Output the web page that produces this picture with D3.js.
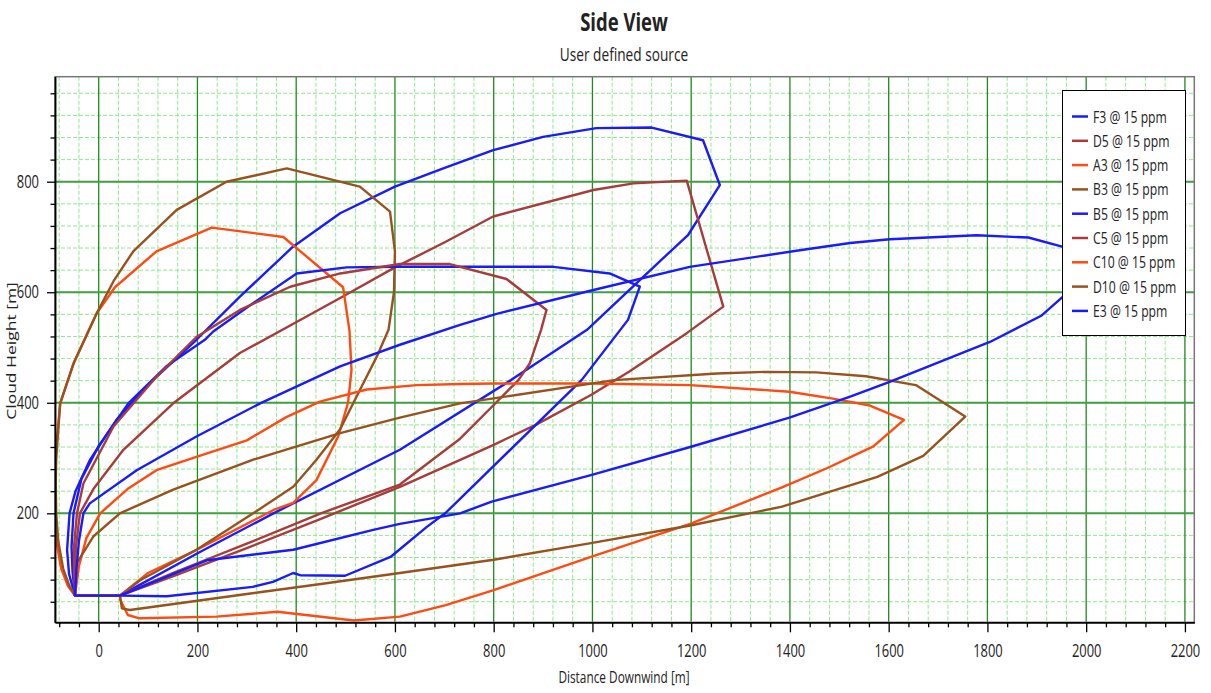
<!DOCTYPE html>
<html>
<head>
<meta charset="utf-8">
<script src="https://cdn.jsdelivr.net/npm/d3@7"></script>
<style>
    body { margin: 0; background: #fff; }
    text { font-family: "Open Sans", sans-serif; fill: #222; }
</style>
</head>
<body>
<script>
// scenario contours, [distance downwind m, height m], from source along lower edge, round the tip, back on upper edge
var f3 = [[43,51],[205,130],[354,200],[610,315],[835,441],[989,532],[1097,623],[1194,704],[1258,794],[1224,875],[1120,898],[1008,897],[900,881],[799,857],[698,824],[600,791],[489,743],[393,682],[286,592],[198,514],[104,436],[36,369],[-18,296],[-47,240],[-59,200],[-64,134],[-60,90],[-48,51]];
var d5 = [[43,51],[150,86],[300,137],[450,190],[610,248],[800,324],[885,360],[997,414],[1074,456],[1191,526],[1265,574],[1191,802],[1083,797],[1002,785],[799,737],[700,690],[600,645],[500,595],[421,556],[286,490],[151,399],[50,315],[-10,245],[-38,200],[-46,140],[-48,95],[-48,51]];
var a3 = [[43,51],[100,92],[192,131],[354,206],[394,219],[441,260],[485,339],[505,400],[512,459],[508,530],[495,609],[374,700],[229,717],[117,674],[33,609],[-4,562],[-51,471],[-78,399],[-86,320],[-88,254],[-89,200],[-86,150],[-76,100],[-62,68],[-48,51]];
var b3 = [[43,51],[84,79],[198,134],[313,200],[394,248],[441,297],[489,352],[529,423],[563,483],[587,532],[598,600],[600,674],[590,746],[529,791],[381,824],[259,800],[158,749],[70,674],[30,620],[-4,562],[-51,471],[-78,399],[-86,300],[-87,254],[-86,200],[-82,150],[-72,100],[-60,70],[-48,51]];
var b5 = [[43,51],[138,50],[312,67],[353,76],[394,92],[408,88],[499,87],[591,121],[664,175],[703,201],[978,441],[1072,550],[1096,610],[1035,634],[921,646],[732,646],[610,646],[502,645],[401,634],[306,576],[232,529],[215,514],[137,466],[60,399],[0,322],[-35,262],[-51,200],[-55,140],[-53,95],[-48,51]];
var c5 = [[43,51],[150,92],[300,145],[450,200],[610,252],[732,335],[800,396],[850,441],[873,471],[896,532],[907,568],[826,624],[711,651],[610,651],[489,634],[388,610],[286,568],[198,519],[117,447],[30,357],[-31,254],[-44,200],[-50,140],[-50,95],[-48,51]];
var c10 = [[43,51],[44,43],[59,16],[83,10],[238,13],[362,22],[517,6],[610,13],[703,34],[800,61],[997,121],[1198,181],[1384,247],[1476,282],[1569,321],[1631,369],[1562,395],[1484,408],[1399,420],[1198,432],[997,435],[800,435],[732,434],[644,432],[543,424],[448,402],[380,374],[300,332],[198,302],[117,278],[60,245],[3,200],[-25,155],[-40,105],[-48,51]];
var d10 = [[43,51],[47,28],[63,25],[300,54],[450,72],[610,92],[800,116],[997,146],[1198,178],[1384,212],[1577,266],[1670,304],[1755,375],[1655,432],[1554,448],[1453,455],[1353,456],[1252,453],[1044,441],[800,408],[732,399],[610,373],[489,345],[313,297],[151,243],[43,200],[-11,158],[-45,109],[-48,51]];
var e3 = [[43,51],[219,115],[394,134],[556,170],[610,181],[732,200],[796,221],[997,269],[1198,320],[1399,373],[1522,411],[1602,438],[1805,510],[1910,558],[1953,592],[2010,640],[1953,682],[1883,699],[1778,703],[1602,696],[1522,689],[1420,676],[1197,646],[1002,604],[806,561],[732,541],[610,505],[489,466],[327,399],[198,339],[77,278],[-18,218],[-31,200],[-40,150],[-45,100],[-48,51]];

var series = [f3, d5, a3, b3, b5, c5, c10, d10, e3];
var names = ["F3 @ 15 ppm", "D5 @ 15 ppm", "A3 @ 15 ppm", "B3 @ 15 ppm", "B5 @ 15 ppm", "C5 @ 15 ppm", "C10 @ 15 ppm", "D10 @ 15 ppm", "E3 @ 15 ppm"];

var xMajor = d3.range(0, 2201, 200);
var xMinor = d3.range(-80, 2201, 40).filter(function (v) { return v % 200 != 0; });
var yMajor = [200, 400, 600, 800];
var yMinor = d3.range(40, 990, 40).filter(function (v) { return v % 200 != 0; });

var width = 1211, height = 693;
var plotLeft = 55, plotRight = 1194.3, plotTop = 76.7, plotBottom = 622.3;
var SX = 0.74; // the picture is squeezed sideways, text too

var blue = "#1a1aff", redbrown = "#a83b3b", orange = "#ff4a12", sienna = "#98521f";
var color = [blue, redbrown, orange, sienna, blue, redbrown, orange, sienna, blue];

var svg = d3.select('body').append('svg').attr('width', width).attr('height', height);

var x = d3.scaleLinear().domain([-88.5, 2219]).range([plotLeft, plotRight]);
var y = d3.scaleLinear().domain([2.8, 990]).range([plotBottom, plotTop]);

function addText(g, px, py, str, size, anchor, weight, rot) {
    return g.append("text")
        .attr("transform", "translate(" + px + "," + py + ") scale(" + SX + ",1)" + (rot ? " rotate(-90)" : ""))
        .attr("text-anchor", anchor)
        .style("font-size", size + "px")
        .style("font-weight", weight || "normal")
        .text(str);
}

// titles
addText(svg, 624, 31, "Side View", 25, "middle", "bold");
addText(svg, 624, 61, "User defined source", 18.5, "middle");
addText(svg, 624, 683, "Distance Downwind [m]", 16, "middle");
addText(svg, 16, 351, "Cloud Height [m]", 17.5, "middle", "normal", true);

// grid
var grid = svg.append("g");
grid.selectAll(".vmin").data(xMinor).enter().append("line")
    .attr("x1", function (d) { return x(d); }).attr("x2", function (d) { return x(d); })
    .attr("y1", plotTop).attr("y2", plotBottom)
    .attr("stroke", "#8fe88f").attr("stroke-width", 1).style("stroke-dasharray", "4,2");
grid.selectAll(".hmin").data(yMinor).enter().append("line")
    .attr("y1", function (d) { return y(d); }).attr("y2", function (d) { return y(d); })
    .attr("x1", plotLeft).attr("x2", plotRight)
    .attr("stroke", "#8fe88f").attr("stroke-width", 1).style("stroke-dasharray", "4,2");
grid.selectAll(".vmaj").data(xMajor).enter().append("line")
    .attr("x1", function (d) { return x(d); }).attr("x2", function (d) { return x(d); })
    .attr("y1", plotTop).attr("y2", plotBottom)
    .attr("stroke", "#1c8c1c").attr("stroke-width", 1.3);
grid.selectAll(".hmaj").data(yMajor).enter().append("line")
    .attr("y1", function (d) { return y(d); }).attr("y2", function (d) { return y(d); })
    .attr("x1", plotLeft).attr("x2", plotRight)
    .attr("stroke", "#3f9f3f").attr("stroke-width", 2);

// contours
svg.append("clipPath").attr("id", "plotclip").append("rect")
    .attr("x", plotLeft).attr("y", plotTop)
    .attr("width", plotRight - plotLeft).attr("height", plotBottom - plotTop);

var line = d3.line()
    .x(function (d) { return x(d[0]); })
    .y(function (d) { return y(d[1]); });

svg.append("g").attr("clip-path", "url(#plotclip)")
    .selectAll("path").data(series).enter().append("path")
    .attr("d", function (d) { return line(d) + "Z"; })
    .attr("fill", "none")
    .attr("stroke", function (d, i) { return color[i]; })
    .attr("stroke-width", 2.4)
    .attr("stroke-linejoin", "round");

// frame
svg.append("rect").attr("x", plotLeft).attr("y", plotTop)
    .attr("width", plotRight - plotLeft).attr("height", plotBottom - plotTop)
    .attr("fill", "none").attr("stroke", "#777").attr("stroke-width", 1.5);

// axes
var xAxis = svg.append("g").attr("transform", "translate(0," + plotBottom + ")");
xAxis.append("g").call(d3.axisBottom(x).tickValues(xMinor).tickSize(5).tickFormat("").tickSizeOuter(0));
xAxis.append("g").call(d3.axisBottom(x).tickValues(xMajor).tickSize(10).tickPadding(12)
    .tickFormat(d3.format("d")).tickSizeOuter(0));
var yAxis = svg.append("g").attr("transform", "translate(" + plotLeft + ",0)");
yAxis.append("g").call(d3.axisLeft(y).tickValues(yMinor).tickSize(4.5).tickFormat("").tickSizeOuter(0));
yAxis.append("g").call(d3.axisLeft(y).tickValues(yMajor).tickSize(8).tickFormat(d3.format("d")).tickSizeOuter(0));

svg.selectAll(".domain").attr("stroke", "#000").attr("stroke-width", 1.5);
svg.selectAll(".tick line").attr("stroke", "#000").attr("stroke-width", 1.3);
xAxis.selectAll("text").style("font-size", "17.5px").attr("fill", "#222")
    .attr("transform", "scale(" + SX + ",1)");
yAxis.selectAll("text").style("font-size", "17.5px").attr("fill", "#222")
    .attr("x", -16 / SX).attr("transform", "scale(" + SX + ",1)");
svg.selectAll(".tick text").style("font-family", "'Open Sans', sans-serif");

// legend
var legend = svg.append("g");
legend.append("rect").attr("x", 1062.5).attr("y", 90.5).attr("width", 123).attr("height", 245)
    .attr("fill", "#fff").attr("stroke", "#000").attr("stroke-width", 1);
names.forEach(function (n, i) {
    var ry = 116.5 + i * 24.3;
    legend.append("line").attr("x1", 1072).attr("x2", 1088).attr("y1", ry).attr("y2", ry)
        .attr("stroke", color[i]).attr("stroke-width", 2.5);
    addText(legend, 1093, ry + 6, n, 16.5, "start");
});
</script>
</body>
</html>
